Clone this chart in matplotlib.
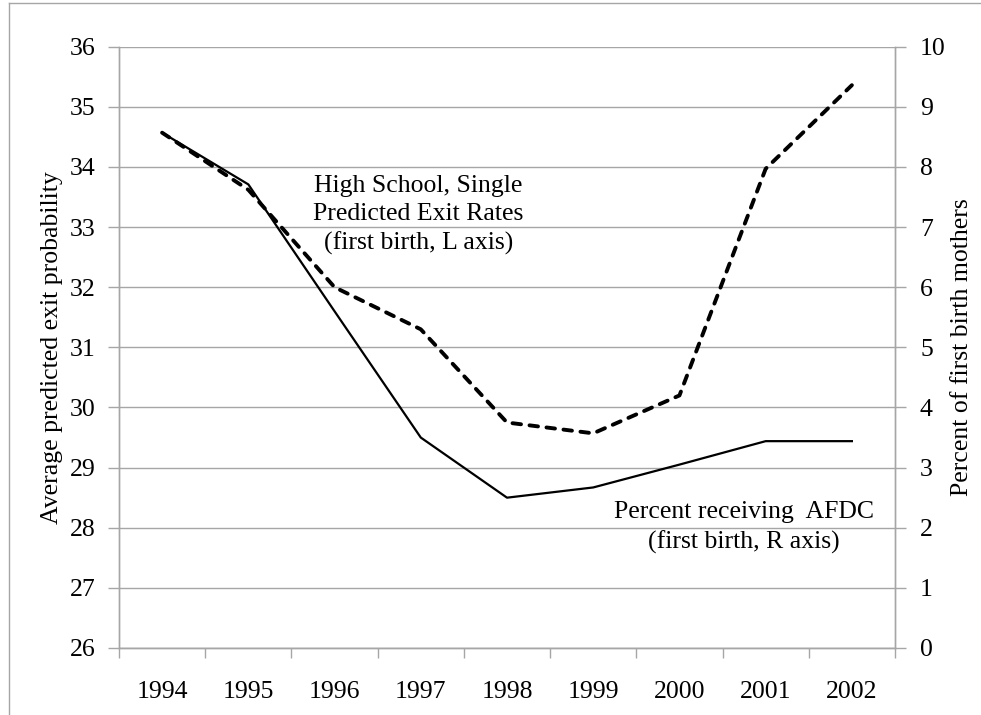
import numpy as np
import matplotlib.pyplot as plt
from matplotlib.lines import Line2D

plt.rcParams['font.family'] = ['Liberation Serif', 'DejaVu Serif']

# data
years = ['1994', '1995', '1996', '1997', '1998', '1999', '2000', '2001', '2002']
exit_rate = [34.57, 33.62, 32.0, 31.3, 29.75, 29.57, 30.2, 33.97, 35.36]   # L axis, dashed
afdc_pct = [8.57, 7.71, 5.6, 3.5, 2.5, 2.67, 3.05, 3.44, 3.44]             # R axis, solid

grid_col = '#a6a6a6'
fs = 18.5

fig = plt.figure(figsize=(9.81, 7.15), dpi=100)
ax = fig.add_axes([119/981, 1-648/715, (895-119)/981, (648-46.7)/715])
ax2 = ax.twinx()

x = np.arange(len(years))

ax.plot(x, exit_rate, color='black', lw=2.8, dashes=(2.2, 2.2),
        dash_capstyle='round', solid_capstyle='round', zorder=3)
ax2.plot(x, afdc_pct, color='black', lw=1.6, zorder=3)

ax.set_xlim(-0.5, len(years)-0.5)
ax.set_ylim(26, 36)
ax2.set_ylim(0, 10)
ax.set_yticks(np.arange(26, 37, 1))
ax2.set_yticks(np.arange(0, 11, 1))

ax.set_xticks(x)
ax.set_xticklabels(years)
ax.set_xticks(np.arange(-0.5, len(years), 1), minor=True)
ax.tick_params(axis='x', which='major', length=0, pad=24, labelsize=fs)
ax.tick_params(axis='x', which='minor', length=7, width=1, color=grid_col)
ax.tick_params(axis='y', length=8, width=1, color=grid_col, pad=9, labelsize=fs)
ax2.tick_params(axis='y', length=8, width=1, color=grid_col, pad=10, labelsize=fs)

ax.yaxis.grid(True, color=grid_col, lw=1)
ax.set_axisbelow(True)
for a in (ax, ax2):
    for s in a.spines.values():
        s.set_color(grid_col)
        s.set_linewidth(1)
    a.spines['top'].set_visible(False)

ax.set_ylabel('Average predicted exit probability', fontsize=fs, labelpad=5)
ax2.set_ylabel('Percent of first birth mothers', fontsize=fs, labelpad=4)

ax.text(2.97, 33.2,
        'High School, Single\nPredicted Exit Rates\n(first birth, L axis)',
        ha='center', va='center', fontsize=fs, linespacing=1.35, zorder=4)
ax2.text(6.75, 2.0, 'Percent receiving  AFDC\n(first birth, R axis)',
         ha='center', va='center', fontsize=fs, linespacing=1.45, zorder=4)

# outer chart frame (partly cut off in the reference)
fig.add_artist(Line2D([9/981, 9/981], [0, 1-3/715], color=grid_col, lw=1,
                      transform=fig.transFigure))
fig.add_artist(Line2D([9/981, 1], [1-3/715, 1-3/715], color=grid_col, lw=1,
                      transform=fig.transFigure))

fig.savefig('out.png', dpi=100)
